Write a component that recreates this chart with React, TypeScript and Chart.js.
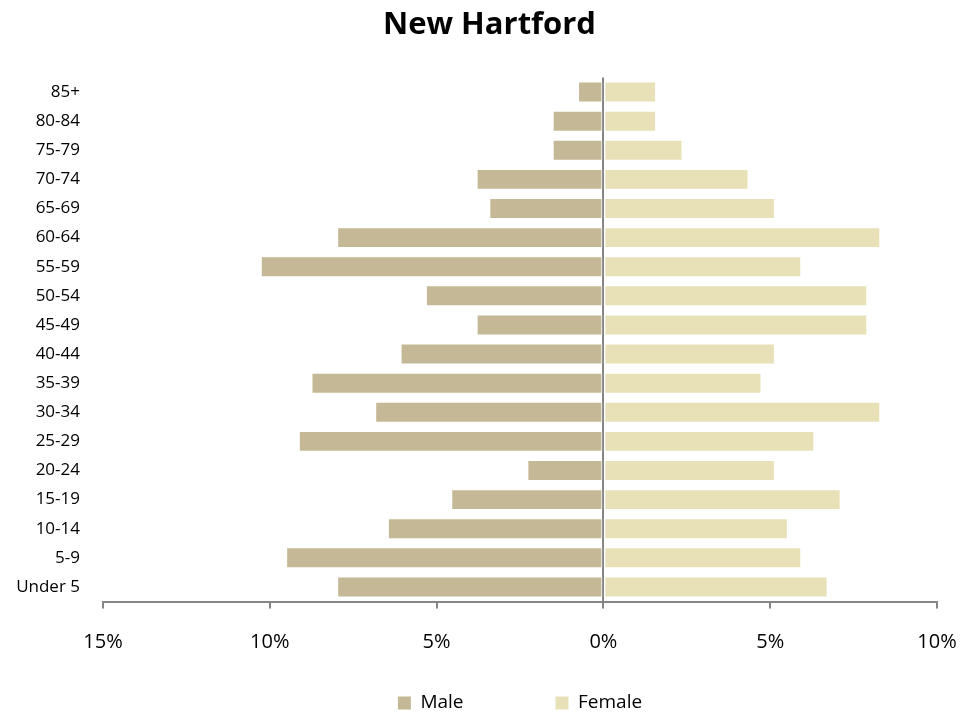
import React, { useEffect, useRef } from "react";
import { Chart, registerables } from "chart.js";

Chart.register(...registerables);

const chartTitle = "New Hartford";
const ageGroups = [
  "85+", "80-84", "75-79", "70-74", "65-69", "60-64", "55-59", "50-54", "45-49",
  "40-44", "35-39", "30-34", "25-29", "20-24", "15-19", "10-14", "5-9", "Under 5",
];
const malePercent = [
  0.76, 1.52, 1.52, 3.8, 3.42, 7.98, 10.27, 5.32, 3.8,
  6.08, 8.75, 6.84, 9.13, 2.28, 4.56, 6.46, 9.51, 7.98,
];
const femalePercent = [
  1.58, 1.58, 2.37, 4.35, 5.14, 8.3, 5.93, 7.91, 7.91,
  5.14, 4.74, 8.3, 6.32, 5.14, 7.11, 5.53, 5.93, 6.72,
];
const seriesNames = ["Male", "Female"];
const axisMin = -15;
const axisMax = 10;
const axisStep = 5;

const MALE_COLOR = "#C4B896";
const FEMALE_COLOR = "#E8E1B8";
const AXIS_COLOR = "#868686";
const FONT = "'Open Sans', 'DejaVu Sans', sans-serif";

export default function App() {
  const ref = useRef<HTMLCanvasElement | null>(null);

  useEffect(() => {
    document.body.style.margin = "0";
    const canvas = ref.current;
    if (!canvas) return;
    Chart.defaults.font.family = FONT;
    Chart.defaults.color = "#000000";

    const chart = new Chart(canvas, {
      type: "bar",
      data: {
        labels: ageGroups,
        datasets: [
          {
            label: seriesNames[0],
            data: malePercent.map((v) => -v),
            backgroundColor: MALE_COLOR,
            borderColor: "rgba(255,255,255,0.7)",
            borderWidth: 1,
            borderSkipped: false,
            barPercentage: 0.72,
            categoryPercentage: 1,
            yAxisID: "y",
          },
          {
            label: seriesNames[1],
            data: femalePercent,
            backgroundColor: FEMALE_COLOR,
            borderColor: "rgba(255,255,255,0.7)",
            borderWidth: 1,
            borderSkipped: false,
            barPercentage: 0.72,
            categoryPercentage: 1,
            yAxisID: "y",
          },
        ],
      },
      options: {
        indexAxis: "y",
        responsive: false,
        maintainAspectRatio: false,
        animation: false,
        layout: { padding: { left: 0, right: 0, top: 0, bottom: -9.5 } },
        scales: {
          x: {
            type: "linear",
            position: "bottom",
            stacked: true,
            min: axisMin,
            max: axisMax,
            z: 1,
            ticks: {
              stepSize: axisStep,
              mirror: true,
              padding: -53,
              color: "#000000",
              font: { family: FONT, size: 20 },
              callback: (v: any) => Math.abs(Number(v)) + "%",
            },
            grid: {
              drawOnChartArea: true,
              color: (ctx: any) => (ctx.tick && ctx.tick.value === 0 ? AXIS_COLOR : "rgba(0,0,0,0)"),
              lineWidth: 2,
              tickColor: AXIS_COLOR,
              tickWidth: 2,
              tickLength: 7,
            },
            border: { display: true, color: AXIS_COLOR, width: 2 },
            afterFit: (scale: any) => {
              scale.height = 0;
            },
          },
          y: {
            type: "category",
            position: "left",
            stacked: true,
            grid: { display: false, drawTicks: false },
            border: { display: false },
            ticks: {
              padding: 23,
              color: "#000000",
              font: { family: FONT, size: 17 },
            },
            afterFit: (scale: any) => {
              scale.width = 103;
            },
          },
          yRight: {
            type: "category",
            position: "right",
            grid: { display: false, drawTicks: false },
            border: { display: false },
            ticks: { display: false },
            afterFit: (scale: any) => {
              scale.width = 42;
            },
          },
        },
        plugins: {
          title: {
            display: true,
            text: chartTitle,
            color: "#000000",
            font: { family: FONT, size: 31, weight: "bold" },
            padding: { top: 6.9, bottom: 33.4 },
          },
          legend: {
            display: true,
            position: "bottom",
            fullSize: false,
            onClick: () => {},
            labels: {
              boxWidth: 13,
              boxHeight: 13,
              padding: 92,
              color: "#000000",
              font: { family: FONT, size: 19 },
              generateLabels: (c: any) =>
                c.data.datasets.map((ds: any, i: number) => ({
                  text: ds.label,
                  fillStyle: ds.backgroundColor,
                  strokeStyle: ds.backgroundColor,
                  lineWidth: 0,
                  hidden: false,
                  datasetIndex: i,
                })),
            },
          },
          tooltip: { enabled: false },
        },
      },
    });
    return () => chart.destroy();
  }, []);

  return (
    <div style={{ width: 979, height: 713 }}>
      <canvas ref={ref} width={979} height={713} style={{ display: "block" }} />
    </div>
  );
}
